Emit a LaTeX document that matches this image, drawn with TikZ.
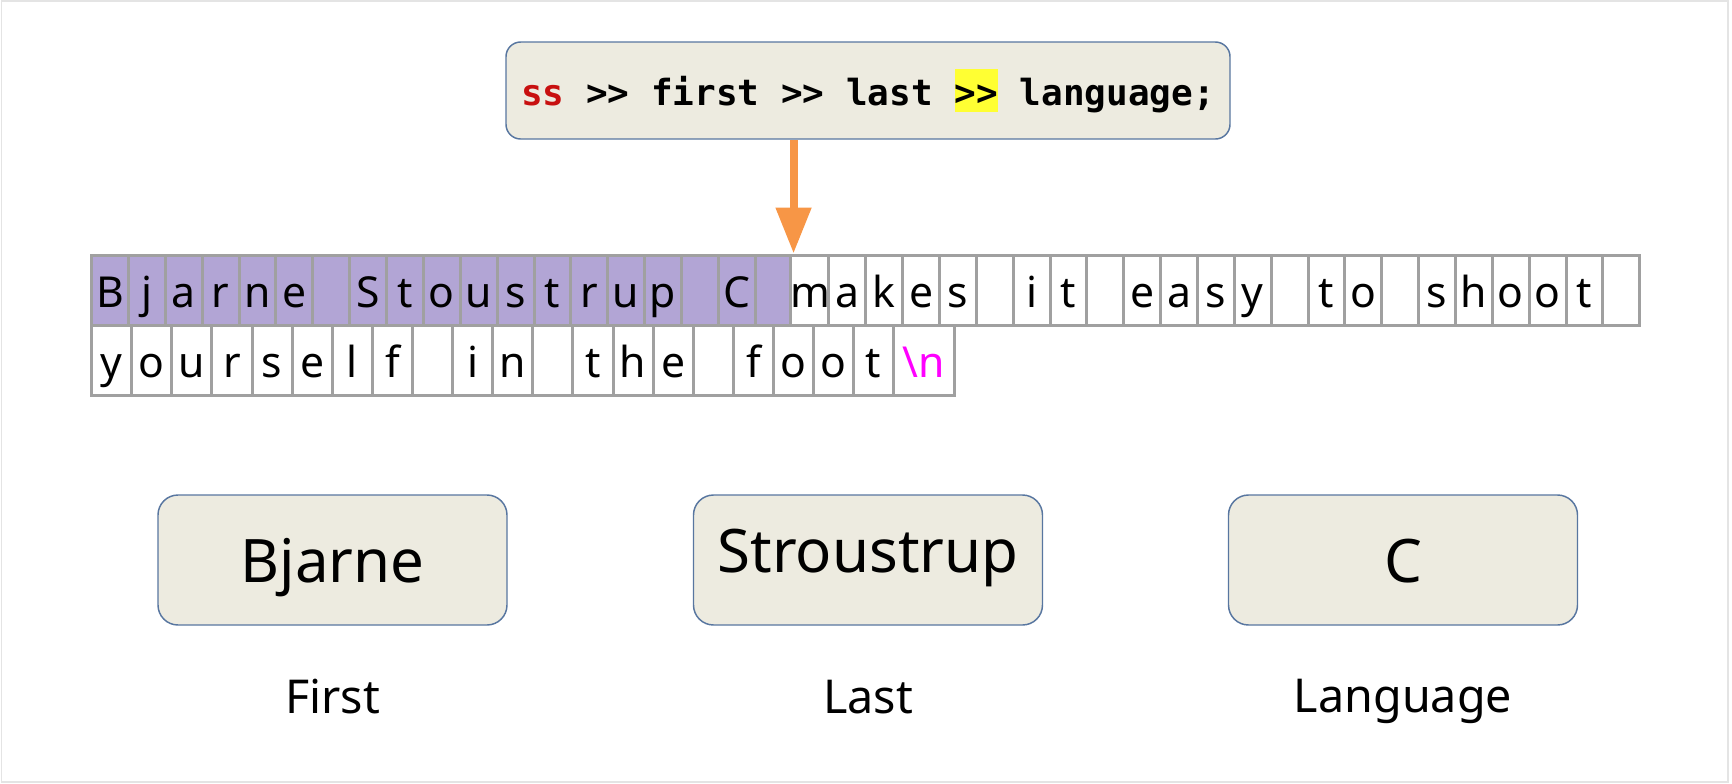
\documentclass[tikz,border=0pt]{standalone}
\usepackage{fontspec}
\setmainfont{Noto Sans}
\newfontfamily\codefont{DejaVu Sans Mono}
\usetikzlibrary{arrows.meta}

\definecolor{lilac}{RGB}{178,165,213}
\definecolor{cellgray}{RGB}{160,160,160}
\definecolor{boxfill}{RGB}{237,235,224}
\definecolor{boxline}{RGB}{88,118,160}
\definecolor{arrowor}{RGB}{247,150,70}
\definecolor{codered}{RGB}{200,16,16}
\definecolor{hl}{RGB}{255,255,51}
\definecolor{nlcol}{RGB}{255,0,255}
\definecolor{framegray}{RGB}{228,228,228}

% two '>' kept apart so the TeX mapping does not turn them into a guillemet
\newcommand\codegt{>\kern0pt>}

\begin{document}
\begin{tikzpicture}[x=0.75pt,y=-0.75pt,
  cellbase/.style={draw=cellgray, line width=2.25pt, inner sep=0pt,
    minimum height=52.5pt, font=\fontsize{32}{32}\selectfont,
    text height=30pt, text depth=4.5pt},
  cellA/.style={cellbase, minimum width=27.65pt},
  cellB/.style={cellbase, minimum width=30.08pt},
  codebox/.style={draw=boxline, line width=1.1pt, fill=boxfill,
    rounded corners=11pt, minimum width=543pt, minimum height=72.75pt,
    inner sep=0pt, text height=26pt, text depth=4.25pt,
    font=\codefont\bfseries\fontsize{27}{27}\selectfont},
  valbox/.style={draw=boxline, line width=1.1pt, fill=boxfill,
    rounded corners=15pt, minimum width=261.75pt, minimum height=97.5pt,
    inner sep=0pt, font=\fontsize{45}{45}\selectfont},
  caption/.style={anchor=base, inner sep=0pt, font=\fontsize{35}{35}\selectfont},
  pointer/.style={draw=arrowor, line width=6pt,
    -{Triangle[length=34.5pt,width=25.5pt]}},
]
\useasboundingbox (0,0) rectangle (1732,783);
\draw[framegray, line width=1.2pt] (1.5,0.8) rectangle (1728,782.2);

% the statement being executed
\node[codebox] (code) at (868,90.5)
  {\textcolor{codered}{ss} \codegt{} first \codegt{} last
   {\setlength\fboxsep{0pt}\colorbox{hl}{\rule[-0.2em]{0pt}{1.2em}\codegt}} language;};

% stream buffer, first line (already consumed part in lilac)
\foreach \ch [count=\i] in {B,j,a,r,n,e,{},S,t,o,u,s,t,r,u,p,{},C,{},
    m,a,k,e,s,{},i,t,{},e,a,s,y,{},t,o,{},s,h,o,o,t,{}} {
  \ifnum\i<20 \def\cellcol{lilac}\else \def\cellcol{white}\fi
  \node[cellA, fill=\cellcol] (a\i) at ({91.7+(\i-0.5)*36.86},290) {\ch};
}

% stream buffer, second line
\foreach \ch [count=\i] in {y,o,u,r,s,e,l,f,{},i,n,{},t,h,e,{},f,o,o,t} {
  \node[cellB, fill=white] (b\i) at ({91.7+(\i-0.5)*40.1},360) {\ch};
}
\node[cellbase, fill=white, minimum width=45.2pt] (bnl) at (923.9,360)
  {\textcolor{nlcol}{\textbackslash n}};

% read position
\coordinate (readpos) at (a19.north east);
\draw[pointer] (code.south -| readpos) -- (readpos);

% extracted values
\node[valbox, text height=40pt, text depth=7pt] (vfirst) at (332.5,560) {Bjarne};
\node[valbox, text height=30pt, text depth=12pt] (vlast) at (868,560) {Stroustrup};
\node[valbox, text height=40pt, text depth=7pt] (vlang) at (1403,560) {C};

\node[caption] (lfirst) at (vfirst.center |- 0,713) {First};
\node[caption] (llast) at (vlast.center |- 0,713) {Last};
\node[caption] (llang) at (vlang.center |- 0,712) {Language};
\end{tikzpicture}
\end{document}
